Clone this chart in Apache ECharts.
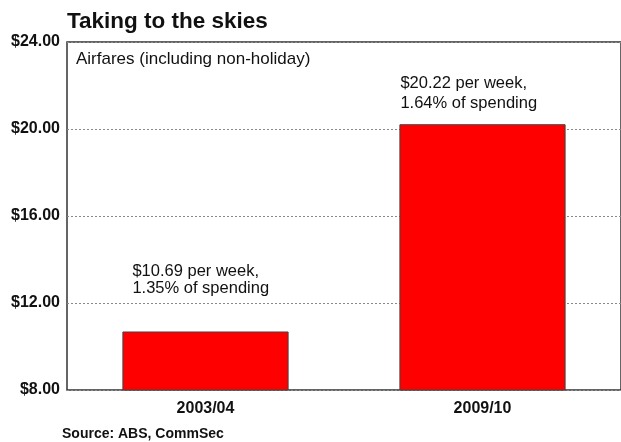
<!DOCTYPE html>
<html>
<head>
<meta charset="utf-8">
<script src="https://cdn.jsdelivr.net/npm/echarts@6/dist/echarts.min.js"></script>
<style>
  html, body { margin: 0; padding: 0; background: #fff; }
  #chart { width: 621px; height: 442px; }
</style>
</head>
<body>
<div id="chart"></div>
<script>
// Weekly household spending on airfares
const categories = ['2003/04', '2009/10'];
const weeklySpend = [10.69, 20.22];      // $ per week
const shareOfSpending = [1.35, 1.64];    // % of total spending
const yTicks = [8, 12, 16, 20, 24];

// Note placement above each bar (offset from the bar's top-left corner) and line spacing
const notePos = [[10, -69], [1, -51]];
const noteLineHeight = [17, 20];

const FONT = 'Arial, "Liberation Sans", Helvetica, sans-serif';

const chart = echarts.init(document.getElementById('chart'));

chart.setOption({
  animation: false,
  backgroundColor: '#fff',
  grid: {
    left: 67, right: -1, top: 42, bottom: 52,
    show: true, borderColor: '#333', borderWidth: 1.5, backgroundColor: 'transparent'
  },
  title: [
    {
      text: 'Taking to the skies',
      left: 67, top: 10, padding: 0,
      textStyle: { fontFamily: FONT, fontSize: 22.5, fontWeight: 'bold', color: '#111' }
    },
    {
      text: 'Airfares (including non-holiday)',
      left: 76, top: 51, padding: 0,
      textStyle: { fontFamily: FONT, fontSize: 17, fontWeight: 'normal', color: '#111' }
    },
    {
      text: 'Source: ABS, CommSec',
      left: 62, top: 427, padding: 0,
      textStyle: { fontFamily: FONT, fontSize: 14, fontWeight: 'bold', color: '#111' }
    }
  ],
  xAxis: {
    type: 'category',
    data: categories,
    axisLine: { show: false },
    axisTick: { show: false },
    axisLabel: {
      margin: 11,
      fontFamily: FONT, fontSize: 16, fontWeight: 'bold', color: '#111'
    }
  },
  yAxis: {
    type: 'value',
    min: yTicks[0],
    max: yTicks[yTicks.length - 1],
    interval: 4,
    axisLine: { show: false },
    axisTick: { show: false },
    axisLabel: {
      margin: 7,
      fontFamily: FONT, fontSize: 16, fontWeight: 'bold', color: '#111',
      formatter: v => '$' + v.toFixed(2)
    },
    splitLine: {
      show: true,
      lineStyle: { color: '#8a8a8a', type: [2, 2], width: 1 }
    }
  },
  series: [{
    type: 'bar',
    barWidth: '60%',
    data: weeklySpend.map((v, i) => ({
      value: v,
      label: {
        show: true,
        position: notePos[i],
        align: 'left',
        verticalAlign: 'top',
        lineHeight: noteLineHeight[i],
        fontFamily: FONT, fontSize: 16.5, color: '#111',
        formatter: () => '$' + weeklySpend[i].toFixed(2) + ' per week,\n' +
          shareOfSpending[i].toFixed(2) + '% of spending'
      }
    })),
    itemStyle: { color: '#ff0000', borderColor: '#444', borderWidth: 1 }
  }]
});
</script>
</body>
</html>
